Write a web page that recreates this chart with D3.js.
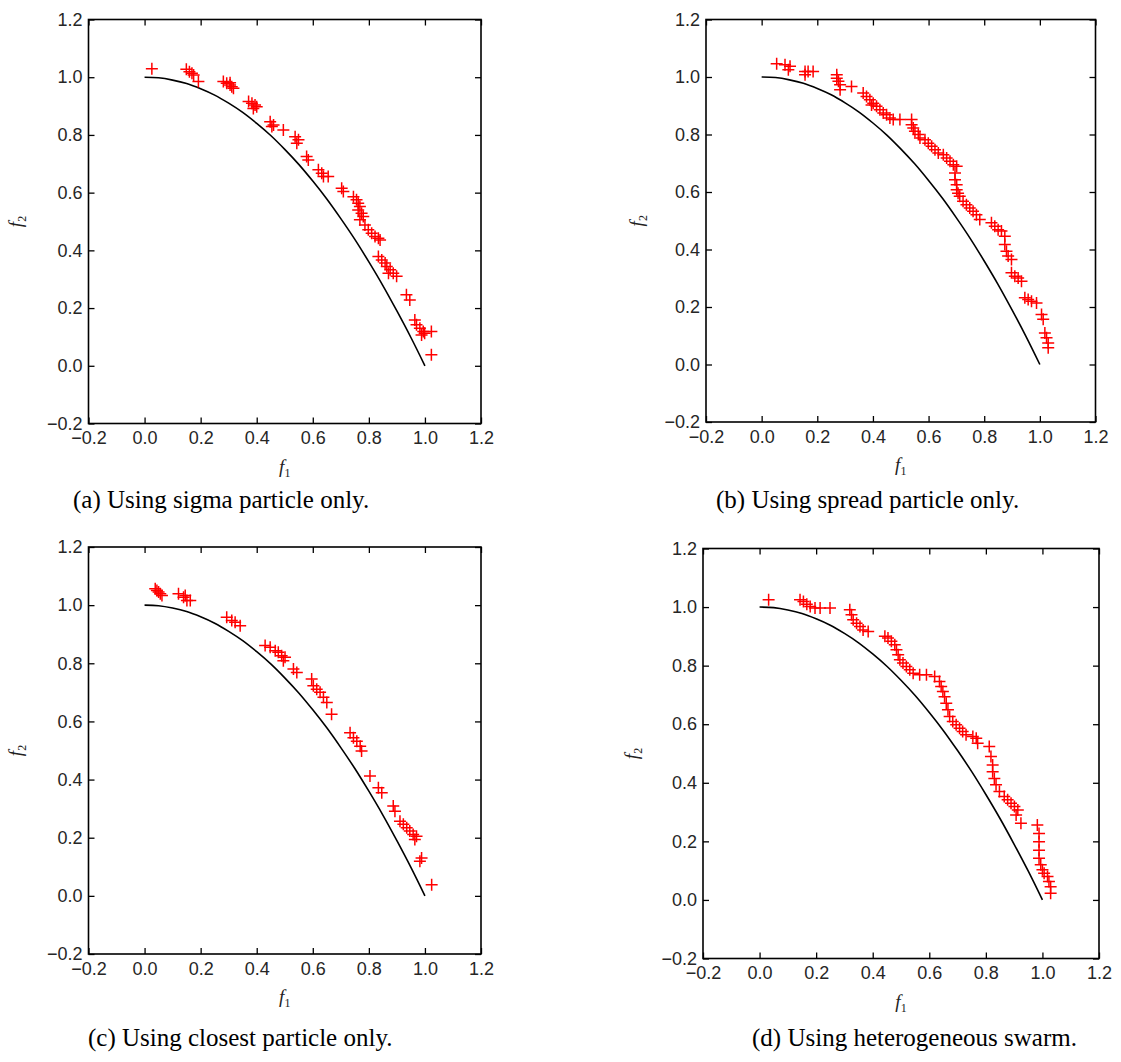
<!DOCTYPE html>
<html>
<head>
<meta charset="utf-8">
<script src="https://cdn.jsdelivr.net/npm/d3@7"></script>
<style>
  html, body { margin: 0; padding: 0; background: #fff; }
  svg { display: block; }
</style>
</head>
<body>
<svg id="chart" width="1121" height="1062"></svg>
<script>
// ---------- DATA ----------
const xTicks = [-0.2, 0.0, 0.2, 0.4, 0.6, 0.8, 1.0, 1.2];
const yTicks = [-0.2, 0.0, 0.2, 0.4, 0.6, 0.8, 1.0, 1.2];
const captions = [
  "(a) Using sigma particle only.",
  "(b) Using spread particle only.",
  "(c) Using closest particle only.",
  "(d) Using heterogeneous swarm."
];

// true Pareto front (black curve)
const frontF1 = [0, 0.05, 0.10, 0.15, 0.20, 0.25, 0.30, 0.35, 0.40, 0.45, 0.50, 0.55, 0.60, 0.65, 0.70, 0.75, 0.80, 0.85, 0.90, 0.95, 1.00];
const frontF2 = [1.00, 0.998, 0.99, 0.978, 0.96, 0.938, 0.91, 0.878, 0.84, 0.798, 0.75, 0.698, 0.64, 0.578, 0.51, 0.438, 0.36, 0.278, 0.19, 0.098, 0.00];

// (a) sigma particle only
const sigmaF1 = [0.026, 0.149, 0.160, 0.169, 0.175, 0.192, 0.281, 0.293, 0.305, 0.311, 0.317, 0.305,
  0.371, 0.383, 0.394, 0.400, 0.388, 0.448, 0.460, 0.454, 0.495, 0.537, 0.549, 0.543,
  0.578, 0.584, 0.620, 0.632, 0.655, 0.638, 0.703, 0.709,
  0.745, 0.756, 0.762, 0.768, 0.762, 0.774, 0.780, 0.768,
  0.786, 0.798, 0.810, 0.822, 0.834, 0.840,
  0.834, 0.846, 0.858, 0.864, 0.876, 0.887, 0.899, 0.870,
  0.934, 0.946, 0.964, 0.970, 0.982, 0.994, 0.988, 0.999, 1.023, 1.023];
const sigmaF2 = [1.029, 1.028, 1.019, 1.014, 1.008, 0.985, 0.985, 0.979, 0.973, 0.967, 0.962, 0.981,
  0.916, 0.910, 0.904, 0.898, 0.892, 0.846, 0.834, 0.829, 0.817, 0.794, 0.783, 0.771,
  0.725, 0.713, 0.679, 0.667, 0.656, 0.656, 0.615, 0.604,
  0.586, 0.575, 0.563, 0.552, 0.540, 0.529, 0.517, 0.506,
  0.488, 0.471, 0.459, 0.448, 0.442, 0.436,
  0.379, 0.367, 0.356, 0.344, 0.333, 0.321, 0.310, 0.321,
  0.246, 0.228, 0.159, 0.142, 0.130, 0.119, 0.107, 0.113, 0.119, 0.038];

// (b) spread particle only
const spreadF1 = [0.054, 0.084, 0.096, 0.102, 0.156, 0.167, 0.185, 0.156,
  0.270, 0.270, 0.276, 0.282, 0.282, 0.323,
  0.365, 0.377, 0.389, 0.401, 0.413, 0.395,
  0.425, 0.437, 0.449, 0.461, 0.473, 0.497,
  0.539, 0.539, 0.545, 0.551, 0.563, 0.569,
  0.587, 0.599, 0.611, 0.623, 0.635,
  0.653, 0.665, 0.677, 0.689, 0.701,
  0.695, 0.695, 0.701, 0.701, 0.706, 0.712,
  0.724, 0.736, 0.748, 0.760, 0.772, 0.784,
  0.826, 0.838, 0.850, 0.862, 0.874,
  0.874, 0.880, 0.886, 0.898,
  0.898, 0.910, 0.922, 0.934,
  0.946, 0.958, 0.970, 0.988,
  1.006, 1.012, 1.018, 1.024, 1.030, 1.030];
const spreadF2 = [1.046, 1.043, 1.025, 1.037, 1.019, 1.019, 1.019, 1.008,
  1.008, 0.996, 0.985, 0.973, 0.956, 0.967,
  0.944, 0.932, 0.921, 0.909, 0.898, 0.903,
  0.886, 0.875, 0.869, 0.857, 0.852, 0.852,
  0.852, 0.834, 0.823, 0.811, 0.800, 0.788,
  0.782, 0.770, 0.759, 0.747, 0.736,
  0.730, 0.718, 0.707, 0.695, 0.690,
  0.666, 0.643, 0.625, 0.608, 0.596, 0.585,
  0.568, 0.556, 0.544, 0.533, 0.521, 0.504,
  0.493, 0.481, 0.469, 0.464, 0.446,
  0.417, 0.394, 0.377, 0.365,
  0.319, 0.307, 0.301, 0.290,
  0.232, 0.226, 0.220, 0.214,
  0.174, 0.157, 0.110, 0.093, 0.075, 0.058];

// (c) closest particle only
const closestF1 = [0.038, 0.050, 0.044, 0.062, 0.056,
  0.121, 0.139, 0.151, 0.163, 0.145,
  0.293, 0.311, 0.323, 0.341,
  0.430, 0.448, 0.466, 0.477, 0.489, 0.501, 0.495,
  0.531, 0.543,
  0.596, 0.602, 0.614, 0.626, 0.638, 0.650, 0.667,
  0.733, 0.745, 0.757, 0.769, 0.774,
  0.804, 0.834, 0.846,
  0.887, 0.893,
  0.911, 0.923, 0.935, 0.946, 0.958, 0.964, 0.970,
  0.988, 0.982, 1.024];
const closestF2 = [1.056, 1.045, 1.050, 1.033, 1.039,
  1.039, 1.027, 1.016, 1.016, 1.033,
  0.958, 0.947, 0.941, 0.929,
  0.861, 0.855, 0.843, 0.838, 0.826, 0.821, 0.809,
  0.780, 0.768,
  0.746, 0.723, 0.711, 0.700, 0.683, 0.665, 0.625,
  0.561, 0.544, 0.532, 0.515, 0.498,
  0.412, 0.372, 0.355,
  0.309, 0.291,
  0.257, 0.246, 0.234, 0.223, 0.211, 0.194, 0.205,
  0.130, 0.119, 0.038];

// (d) heterogeneous swarm
const heteroF1 = [0.032, 0.143, 0.155, 0.167, 0.179, 0.196, 0.214, 0.249,
  0.319, 0.325, 0.331, 0.343, 0.355, 0.366, 0.384,
  0.443, 0.454, 0.466, 0.478, 0.484, 0.490, 0.496, 0.507, 0.519, 0.531, 0.543, 0.566, 0.590, 0.619,
  0.636, 0.642, 0.648, 0.654, 0.660, 0.666,
  0.672, 0.683, 0.695, 0.707, 0.718, 0.730,
  0.754, 0.766, 0.771,
  0.812, 0.818, 0.824, 0.824, 0.830, 0.836,
  0.848, 0.865, 0.877, 0.889, 0.901, 0.913, 0.907, 0.924,
  0.982, 0.988, 0.988, 0.988, 0.988, 0.994, 1.000, 1.006, 1.018, 1.023, 1.029, 1.029];
const heteroF2 = [1.025, 1.025, 1.019, 1.010, 1.002, 0.997, 0.997, 0.997,
  0.991, 0.974, 0.957, 0.945, 0.934, 0.922, 0.917,
  0.900, 0.894, 0.883, 0.871, 0.854, 0.837, 0.820, 0.809, 0.797, 0.786, 0.774, 0.769, 0.769, 0.763,
  0.746, 0.729, 0.712, 0.694, 0.672, 0.649,
  0.626, 0.609, 0.598, 0.586, 0.575, 0.564,
  0.558, 0.552, 0.535,
  0.524, 0.490, 0.461, 0.438, 0.415, 0.393,
  0.370, 0.353, 0.342, 0.330, 0.319, 0.307, 0.290, 0.262,
  0.256, 0.227, 0.199, 0.170, 0.142, 0.120, 0.103, 0.091, 0.080, 0.063, 0.045, 0.023];

// ---------- LAYOUT ----------
const panels = [
  { f1: sigmaF1,   f2: sigmaF2,   cap: captions[0], L: 88.5, R: 481,    T: 19.5,  B: 423.5, ylabX: 22,  capX: 73,  capY: 508 },
  { f1: spreadF1,  f2: spreadF2,  cap: captions[1], L: 706,  R: 1095.5, T: 19.5,  B: 422,   ylabX: 643, capX: 716, capY: 508 },
  { f1: closestF1, f2: closestF2, cap: captions[2], L: 88.5, R: 481,    T: 547,   B: 954,   ylabX: 22,  capX: 88,  capY: 1046 },
  { f1: heteroF1,  f2: heteroF2,  cap: captions[3], L: 703,  R: 1099,   T: 548.5, B: 958.5, ylabX: 638, capX: 752, capY: 1046 }
];

const svg = d3.select("#chart");
const fmt = d3.format(".1f");
const tickFont = "'Liberation Sans', Arial, Helvetica, sans-serif";
const serif = "'Liberation Serif', 'Times New Roman', serif";

panels.forEach(p => {
  const x = d3.scaleLinear().domain([-0.2, 1.2]).range([p.L, p.R]);
  const y = d3.scaleLinear().domain([-0.2, 1.2]).range([p.B, p.T]);
  const g = svg.append("g");

  // frame
  g.append("rect").attr("x", p.L).attr("y", p.T)
    .attr("width", p.R - p.L).attr("height", p.B - p.T)
    .attr("fill", "none").attr("stroke", "#000").attr("stroke-width", 1.6);

  // axes
  const styleAxis = sel => {
    sel.select(".domain").remove();
    sel.selectAll(".tick line").attr("stroke", "#000").attr("stroke-width", 1.3);
    sel.selectAll(".tick text").attr("fill", "#262626")
      .style("font-family", tickFont).style("font-size", "18px");
  };
  g.append("g").attr("transform", `translate(0,${p.B})`)
    .call(d3.axisBottom(x).tickValues(xTicks).tickFormat(fmt).tickSizeInner(-6).tickSizeOuter(0).tickPadding(8))
    .call(styleAxis);
  g.append("g").attr("transform", `translate(0,${p.T})`)
    .call(d3.axisTop(x).tickValues(xTicks).tickFormat("").tickSizeInner(-6).tickSizeOuter(0))
    .call(styleAxis);
  g.append("g").attr("transform", `translate(${p.L},0)`)
    .call(d3.axisLeft(y).tickValues(yTicks).tickFormat(fmt).tickSizeInner(-6).tickSizeOuter(0).tickPadding(6))
    .call(styleAxis);
  g.append("g").attr("transform", `translate(${p.R},0)`)
    .call(d3.axisRight(y).tickValues(yTicks).tickFormat("").tickSizeInner(-6).tickSizeOuter(0))
    .call(styleAxis);

  // Pareto front curve
  const front = frontF1.map((v, i) => [v, frontF2[i]]);
  g.append("path").datum(front)
    .attr("d", d3.line().x(d => x(d[0])).y(d => y(d[1])).curve(d3.curveCatmullRom))
    .attr("fill", "none").attr("stroke", "#000").attr("stroke-width", 1.6);

  // red + markers
  const pts = p.f1.map((v, i) => [v, p.f2[i]]);
  g.append("g").selectAll("path").data(pts).join("path")
    .attr("transform", d => `translate(${x(d[0])},${y(d[1])})`)
    .attr("d", "M-6,0H6M0,-6V6")
    .attr("fill", "none").attr("stroke", "#ff0000").attr("stroke-width", 1.5);

  // x label f1
  const xl = g.append("text")
    .attr("x", (p.L + p.R) / 2).attr("y", p.B + 49)
    .attr("text-anchor", "middle")
    .style("font-family", serif).style("font-size", "19px").attr("fill", "#222");
  xl.append("tspan").style("font-style", "italic").text("f");
  xl.append("tspan").attr("dy", 4).style("font-size", "12px").text("1");

  // y label f2
  const yl = g.append("text")
    .attr("transform", `translate(${p.ylabX},${(p.T + p.B) / 2}) rotate(-90)`)
    .attr("text-anchor", "middle")
    .style("font-family", serif).style("font-size", "19px").attr("fill", "#222");
  yl.append("tspan").style("font-style", "italic").text("f");
  yl.append("tspan").attr("dy", 4).style("font-size", "12px").text("2");

  // caption
  svg.append("text").attr("x", p.capX).attr("y", p.capY)
    .style("font-family", serif).style("font-size", "25px").attr("fill", "#000")
    .text(p.cap);
});
</script>
</body>
</html>
